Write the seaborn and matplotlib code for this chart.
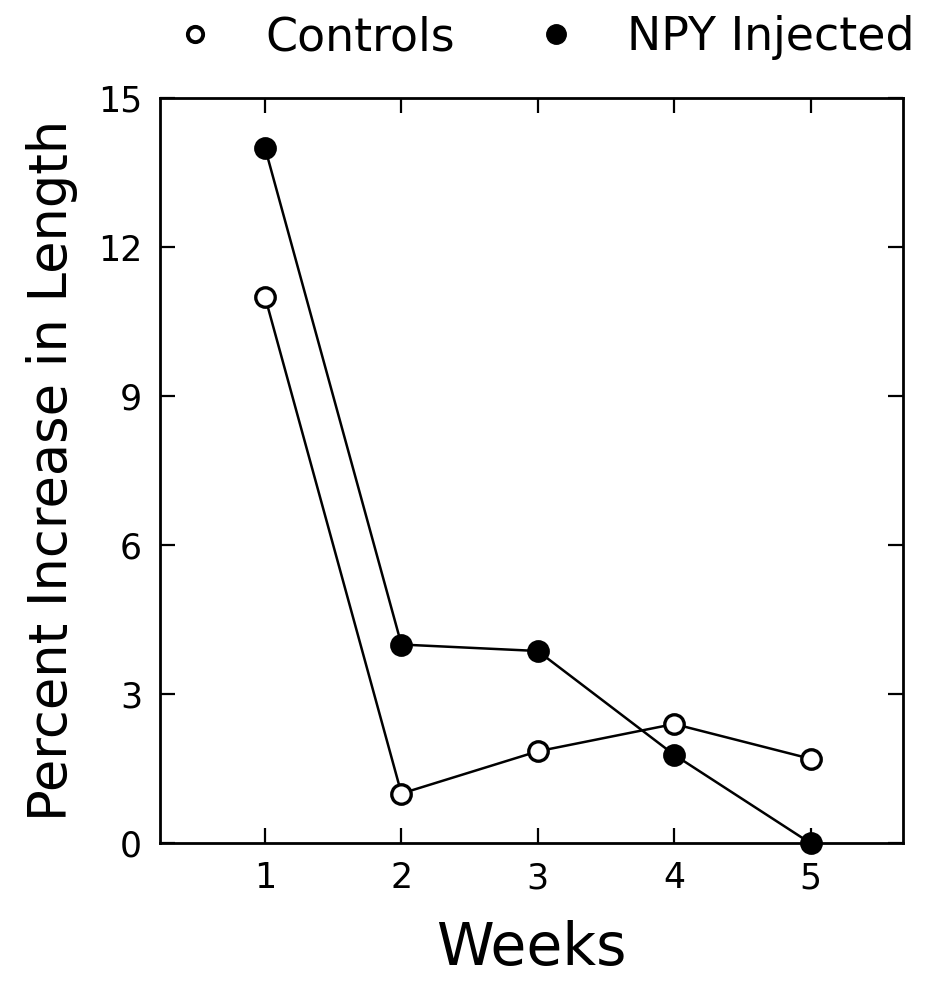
import pandas as pd
import matplotlib
matplotlib.use("Agg")
import matplotlib.pyplot as plt
from matplotlib.lines import Line2D
import seaborn as sns

# data
weeks = [1, 2, 3, 4, 5]
controls = [11.0, 1.0, 1.85, 2.4, 1.7]
npy_injected = [14.0, 4.0, 3.87, 1.78, 0.0]
y_ticks = [0, 3, 6, 9, 12, 15]

df = pd.DataFrame({
    "Weeks": weeks * 2,
    "Value": controls + npy_injected,
    "Group": ["Controls"] * 5 + ["NPY Injected"] * 5,
})

sns.set_theme(style="ticks")
plt.rcParams['font.family'] = ['DejaVu Sans']
plt.rcParams['text.color'] = "black"
plt.rcParams['axes.labelcolor'] = "black"

fig = plt.figure(figsize=(9.36, 9.92), dpi=100)
ax = fig.add_axes([0.171, 0.150, 0.794, 0.751])

face = {"Controls": "white", "NPY Injected": "black"}
for grp in ["Controls", "NPY Injected"]:
    sns.lineplot(data=df[df["Group"] == grp], x="Weeks", y="Value", ax=ax,
                 color="black", linewidth=1.8, marker="o", markersize=14,
                 markerfacecolor=face[grp], markeredgecolor="black",
                 markeredgewidth=2.4, legend=False, zorder=3, clip_on=False)

ax.set_xlim(0.23, 5.68)
ax.set_ylim(0, 15)
ax.set_xticks(weeks)
ax.set_yticks(y_ticks)
ax.tick_params(direction="in", length=11, width=1.6, labelsize=25,
               top=True, right=True, pad=13, colors="black")
for s in ax.spines.values():
    s.set_linewidth(2)
    s.set_color("black")

ax.set_xlabel("Weeks", fontsize=42, labelpad=18)
ax.set_ylabel("Percent Increase in Length", fontsize=38, labelpad=14)

handles = [
    Line2D([], [], linestyle="none", marker="o", markersize=11,
           markerfacecolor="white", markeredgecolor="black", markeredgewidth=2.8),
    Line2D([], [], linestyle="none", marker="o", markersize=14,
           markerfacecolor="black", markeredgecolor="black"),
]
fig.legend(handles, ["Controls", "NPY Injected"], loc="upper center",
           bbox_to_anchor=(0.578, 1.026), ncol=2, frameon=False, fontsize=33,
           columnspacing=1.6, handletextpad=0.95, handlelength=1.2)

fig.savefig("out.png", dpi=100, facecolor="white")
